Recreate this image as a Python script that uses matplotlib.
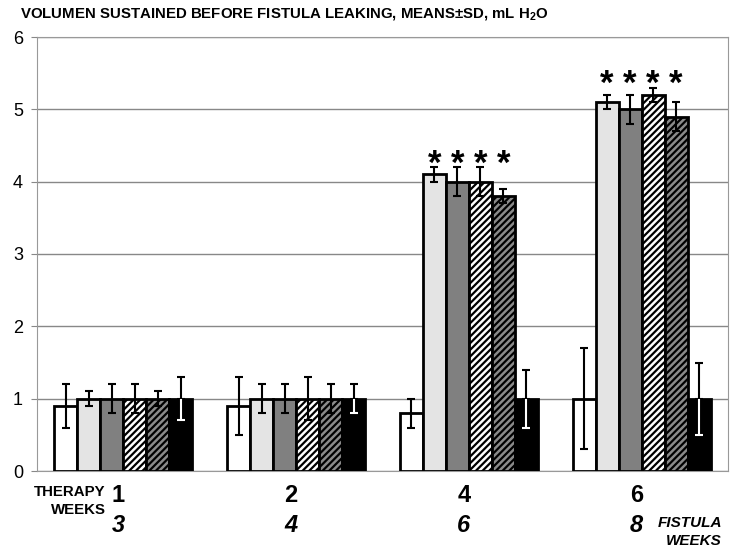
import numpy as np
import matplotlib.pyplot as plt
from matplotlib.transforms import blended_transform_factory

# data
therapy_weeks = ['1', '2', '4', '6']
fistula_weeks = ['3', '4', '6', '8']

white_mean = [0.9, 0.9, 0.8, 1.0]
white_sd = [0.3, 0.4, 0.2, 0.7]
light_mean = [1.0, 1.0, 4.1, 5.1]
light_sd = [0.1, 0.2, 0.1, 0.1]
dark_mean = [1.0, 1.0, 4.0, 5.0]
dark_sd = [0.2, 0.2, 0.2, 0.2]
lhatch_mean = [1.0, 1.0, 4.0, 5.2]
lhatch_sd = [0.2, 0.3, 0.2, 0.1]
dhatch_mean = [1.0, 1.0, 3.8, 4.9]
dhatch_sd = [0.1, 0.2, 0.1, 0.2]
black_mean = [1.0, 1.0, 1.0, 1.0]
black_sd = [0.3, 0.2, 0.4, 0.5]

# which groups get asterisks on bars 2-5
starred = [False, False, True, True]

series = [
    (white_mean, white_sd, 'white', None),
    (light_mean, light_sd, '#e4e4e4', None),
    (dark_mean, dark_sd, '#808080', None),
    (lhatch_mean, lhatch_sd, 'white', '/////'),
    (dhatch_mean, dhatch_sd, '#8a8a8a', '/////'),
    (black_mean, black_sd, 'black', None),
]

plt.rcParams['hatch.linewidth'] = 1.6
plt.rcParams['font.family'] = ['Liberation Sans', 'DejaVu Sans']

fig = plt.figure(figsize=(7.35, 5.52), dpi=100)
ax = fig.add_axes([37 / 735, 81 / 552, 691 / 735, 434 / 552])

x = np.arange(len(therapy_weeks))
w = 0.8 / len(series)

for j, (mean, sd, color, hatch) in enumerate(series):
    pos = x + (j - 2.5) * w
    mean = np.array(mean)
    sd = np.array(sd)
    ax.bar(pos, mean, width=w, color=color, edgecolor='black', linewidth=2,
           hatch=hatch, zorder=3)
    if color == 'black':
        # black above the bar, white inside it
        ax.errorbar(pos, mean, yerr=[np.zeros_like(sd), sd], fmt='none',
                    ecolor='black', elinewidth=1.5, capsize=3, capthick=1.5,
                    zorder=4)
        ax.errorbar(pos, mean, yerr=[sd, np.zeros_like(sd)], fmt='none',
                    ecolor='white', elinewidth=1.5, capsize=0, zorder=4)
        ax.plot(pos, mean - sd, ls='none', marker='_', ms=6, mew=1.5,
                color='white', zorder=4)
    else:
        ax.errorbar(pos, mean, yerr=sd, fmt='none', ecolor='black',
                    elinewidth=1.5, capsize=3, capthick=1.5, zorder=4)

# asterisks above the treated groups
for i in range(len(x)):
    if not starred[i]:
        continue
    tops = [series[j][0][i] + series[j][1][i] for j in range(1, 5)]
    ystar = max(tops) + 0.04
    for j in range(1, 5):
        ax.text(x[i] + (j - 2.5) * w, ystar, '*', ha='center', va='center',
                fontsize=25, fontweight='bold', zorder=5)

ax.set_xlim(-0.5, 3.5)
ax.set_ylim(0, 6)
ax.set_yticks(range(7))
ax.tick_params(axis='y', labelsize=13, length=4, color='#888888', pad=6)
ax.set_xticks([])
ax.grid(axis='y', color='#888888', linewidth=1, zorder=0)
for s in ax.spines.values():
    s.set_color('#999999')

tr = blended_transform_factory(ax.transData, fig.transFigure)
for i in range(len(x)):
    ax.text(x[i] - 0.03, 1 - 496 / 552, therapy_weeks[i], transform=tr,
            ha='center', va='center', fontsize=17, fontweight='bold')
    ax.text(x[i] - 0.03, 1 - 525 / 552, fistula_weeks[i], transform=tr,
            ha='center', va='center', fontsize=17, fontweight='bold',
            fontstyle='italic')

fig.text(106 / 735, 1 - 501 / 552, 'THERAPY\nWEEKS', ha='right', va='center',
         fontsize=10.8, fontweight='bold', linespacing=1.35,
         multialignment='right')
fig.text(722 / 735, 1 - 532 / 552, 'FISTULA\nWEEKS', ha='right', va='center',
         fontsize=11, fontweight='bold', fontstyle='italic',
         linespacing=1.35, multialignment='right')

fig.text(20 / 735, 1 - 15 / 552,
         r'VOLUMEN SUSTAINED BEFORE FISTULA LEAKING, MEANS±SD, mL H$_\mathregular{2}$O',
         ha='left', va='center', fontsize=10.8, fontweight='bold')

fig.savefig('out.png', dpi=100)
